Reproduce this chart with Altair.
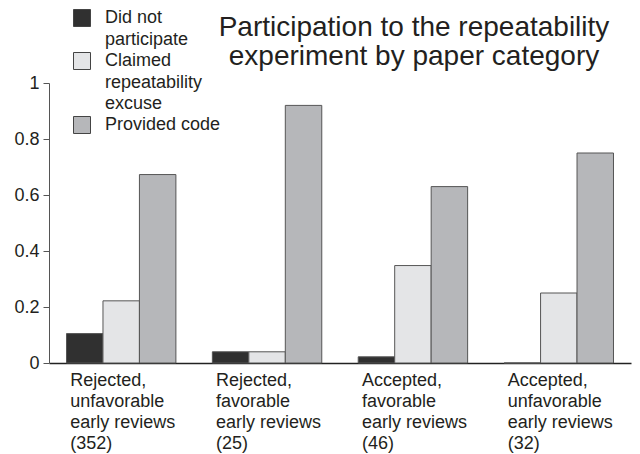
import altair as alt
import pandas as pd

categories = [
    "Rejected,|unfavorable|early reviews|(352)",
    "Rejected,|favorable|early reviews|(25)",
    "Accepted,|favorable|early reviews|(46)",
    "Accepted,|unfavorable|early reviews|(32)",
]
series = ["Did not|participate", "Claimed|repeatability|excuse", "Provided code"]
did_not_participate = [0.105, 0.04, 0.022, 0.0]
claimed_excuse = [0.222, 0.04, 0.348, 0.25]
provided_code = [0.673, 0.92, 0.630, 0.75]
colors = ["#303030", "#e4e5e7", "#b6b7ba"]
y_ticks = [0, 0.2, 0.4, 0.6, 0.8, 1]
title_lines = ["Participation to the repeatability", "experiment by paper category"]

rows = []
for vals, s in zip([did_not_participate, claimed_excuse, provided_code], series):
    for c, v in zip(categories, vals):
        rows.append({"category": c, "series": s, "value": v})
df = pd.DataFrame(rows)

FONT = "Liberation Sans"
TXT = "#231f20"

bars = (
    alt.Chart(df)
    .mark_bar(stroke="#555555", strokeWidth=1)
    .encode(
        x=alt.X(
            "category:N",
            sort=categories,
            scale=alt.Scale(paddingInner=0.25, paddingOuter=0.12),
            axis=alt.Axis(
                title=None,
                labelAngle=0,
                labelAlign="left",
                labelBaseline="top",
                labelOffset=-51,
                labelPadding=8,
                labelFontSize=18,
                labelLineHeight=21,
                labelFont=FONT,
                labelColor=TXT,
                labelLimit=0,
                ticks=False,
                domainColor="#222222",
                domainWidth=1.5,
                labelExpr="split(datum.label, '|')",
            ),
        ),
        xOffset=alt.XOffset(
            "series:N",
            sort=series,
            scale=alt.Scale(paddingInner=0, paddingOuter=0),
        ),
        y=alt.Y(
            "value:Q",
            scale=alt.Scale(domain=[0, 1]),
            axis=alt.Axis(
                title=None,
                values=y_ticks,
                format="~g",
                grid=False,
                tickSize=6,
                tickColor="#555555",
                domainColor="#555555",
                labelPadding=4,
                labelFontSize=18,
                labelFont=FONT,
                labelColor=TXT,
            ),
        ),
        fill=alt.Fill(
            "series:N",
            sort=series,
            scale=alt.Scale(domain=series, range=colors),
            legend=alt.Legend(
                title=None,
                orient="none",
                legendX=24,
                legendY=-74,
                symbolType="square",
                symbolSize=289,
                symbolStrokeColor="#444444",
                symbolStrokeWidth=1,
                labelFontSize=18,
                labelFont=FONT,
                labelColor=TXT,
                labelOffset=14,
                labelLimit=0,
                rowPadding=1,
                labelExpr="split(datum.label, '|')",
            ),
        ),
    )
)

title = (
    alt.Chart(pd.DataFrame({"title": [" / ".join(title_lines)]}))
    .mark_text(
        text=title_lines,
        font=FONT,
        fontSize=28,
        color=TXT,
        align="center",
        baseline="alphabetic",
        lineHeight=29,
    )
    .encode(x=alt.value(365), y=alt.value(-47))
)

chart = (
    alt.layer(bars, title)
    .properties(
        width=582,
        height=280,
        autosize=alt.AutoSizeParams(type="none"),
        padding={"left": 41, "top": 75, "right": 1, "bottom": 91},
    )
    .configure(style={"guide-label": {"lineHeight": 21.5}})
    .configure_view(stroke=None)
)

chart.save("out.html", embed_options={"renderer": "svg", "actions": False})
